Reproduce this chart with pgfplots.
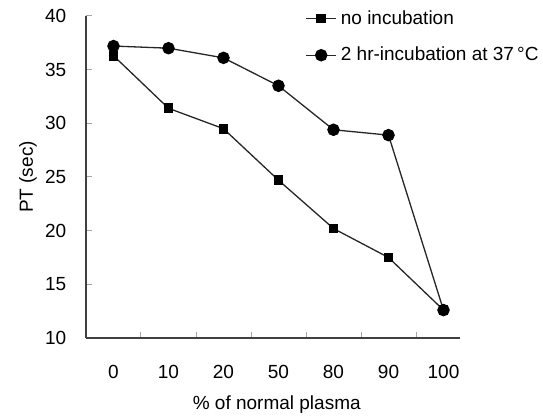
\documentclass[border=0pt]{standalone}
\usepackage{fontspec}
\setmainfont{Liberation Sans}
\usepackage{pgfplots}
\pgfplotsset{compat=1.18}
\begin{document}
\fontsize{9.5}{11}\selectfont
\begin{tikzpicture}
\begin{axis}[
    scale only axis,
    width=187pt,
    height=161pt,
    xmin=-0.5, xmax=6.3,
    ymin=10, ymax=40,
    ytick={10,15,...,40},
    xtick={0,...,6},
    xticklabels={0,10,20,50,80,90,100},
    minor x tick num=1,
    axis x line*=bottom,
    axis y line*=left,
    axis line style={black!75, line width=0.6pt},
    tick style={black!35, line width=0.5pt},
    major tick length=3pt,
    minor tick length=3pt,
    major x tick style={draw=none},
    tick align=inside,
    /pgf/number format/assume math mode=true,
    tick label style={font=\fontsize{9.5}{11}\selectfont},
    xticklabel style={yshift=-10pt},
    yticklabel style={xshift=-6.5pt},
    xlabel={\% of normal plasma},
    ylabel={PT (sec)},
    xlabel style={at={(axis description cs:0.51,0)}, anchor=center, yshift=-33.5pt},
    ylabel style={at={(axis description cs:-0.155,0.5)}, anchor=center},
    legend style={draw=none, fill=none, inner sep=0pt,
        at={(axis description cs:0.586,0.935)}, anchor=west,
        row sep=6pt, font=\fontsize{9.5}{11}\selectfont},
    legend image code/.code={
        \draw[mark repeat=2,mark phase=2] plot coordinates {(0pt,0pt)(7.5pt,0pt)(15pt,0pt)};},
    legend cell align=left,
    every axis plot/.append style={black!85, line width=0.65pt},
]
\addplot[mark=square*, mark size=2.1pt, mark options={fill=black, draw=black}] coordinates {
    (0,36.3) (1,31.4) (2,29.5) (3,24.7) (4,20.2) (5,17.5) (6,12.6)
};
\addlegendentry{no incubation}
\addplot[mark=*, mark size=2.8pt, mark options={fill=black, draw=black}] coordinates {
    (0,37.2) (1,37.0) (2,36.1) (3,33.5) (4,29.4) (5,28.9) (6,12.6)
};
\addlegendentry{2 hr-incubation at 37\,°C}
\end{axis}
\pgfresetboundingbox
\path (current axis.south west) ++(-43pt,-39pt) rectangle ([xshift=41.5pt,yshift=8pt]current axis.north east);
\end{tikzpicture}
\end{document}
